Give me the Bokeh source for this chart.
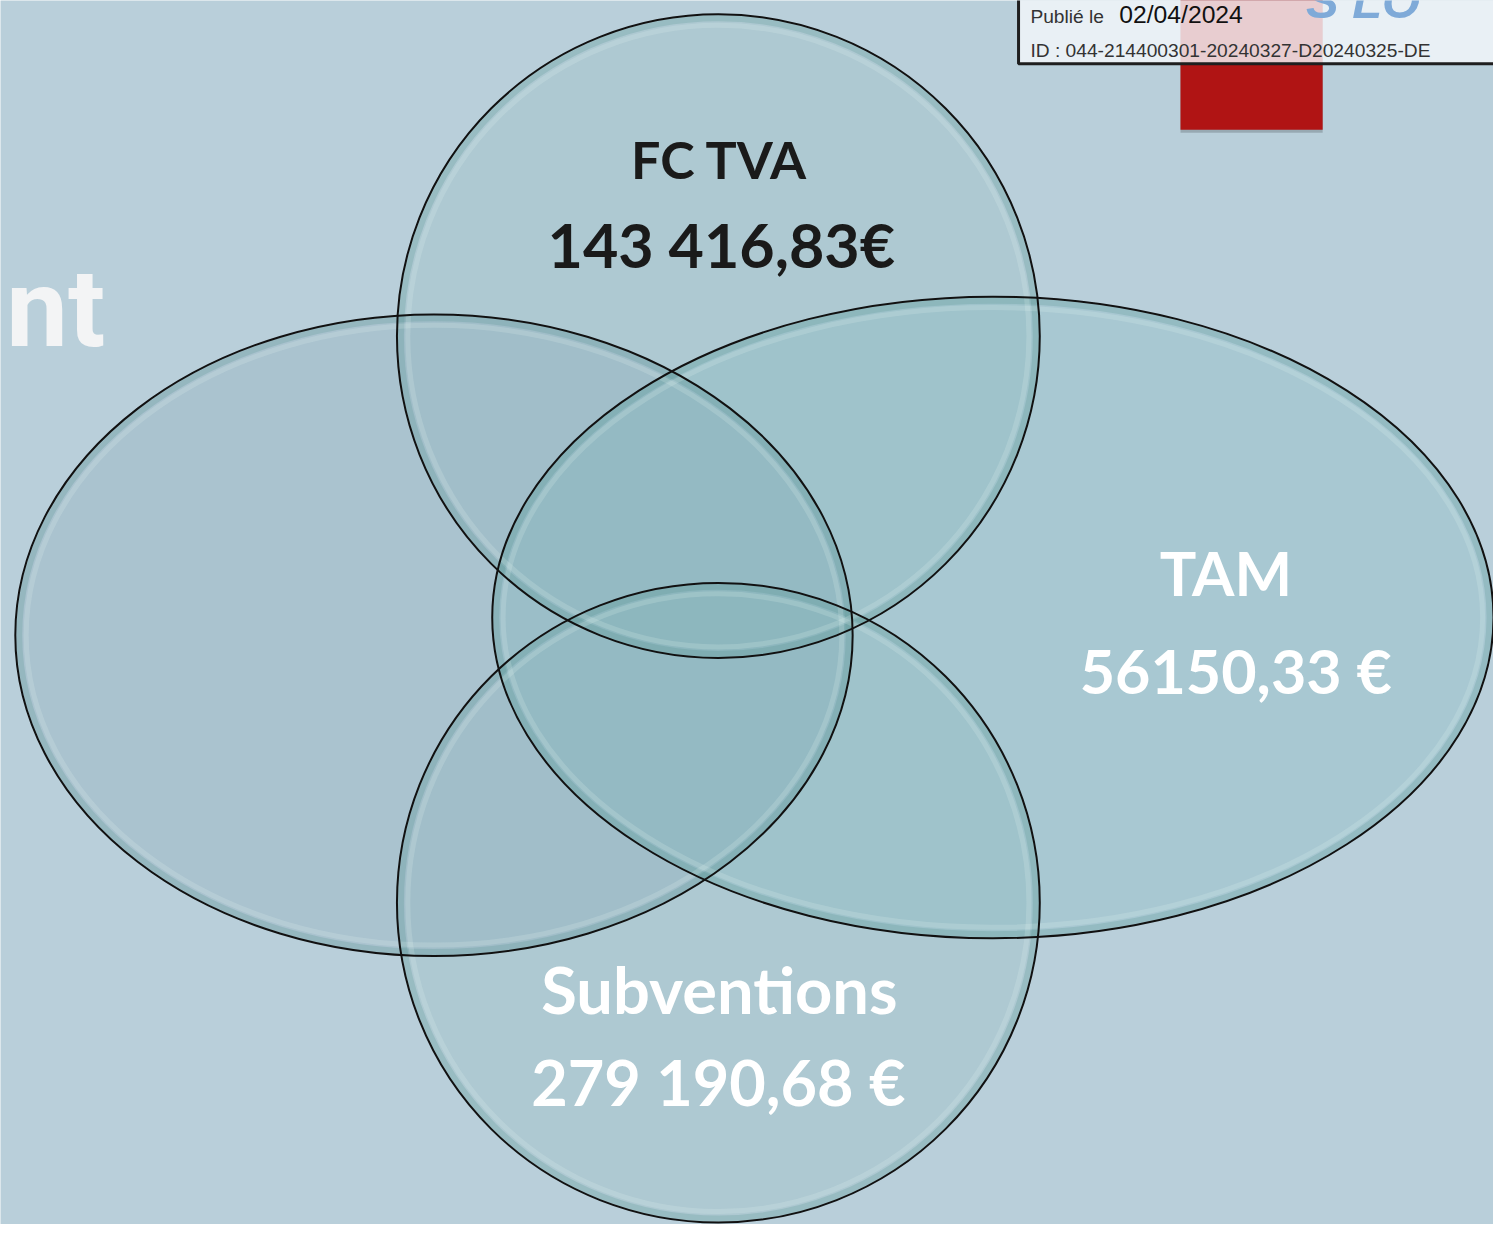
from bokeh.plotting import figure
from bokeh.models import Range1d, ColumnDataSource
from bokeh.core.properties import value
from bokeh.embed import file_html
from bokeh.resources import INLINE

# ---- data ----
categories = ["FC TVA", "TAM", "Subventions"]
amounts = ["143 416,83€", "56150,33 €", "279 190,68 €"]
ellipse_names = ["Gauche", "FC TVA", "TAM", "Subventions"]
title_fragment = "nt"
stamp_date = "02/04/2024"
stamp_id = "ID : 044-214400301-20240327-D20240325-DE"

# geometry of the diagram (reference pixel space)
ell_x = [439, 727, 1005, 727]
ell_y = [643, 340, 625, 914]
ell_w = [848, 651, 1014, 651]
ell_h = [650, 652, 650, 648]
ell_fill = ["#5A8296", "#64A0A5", "#50AAA5", "#64A0A5"]
ell_alpha = [0.15, 0.13, 0.16, 0.13]

W, H = 1512, 1240
PW, PH = 1493, 1224
s = PH / H
BOFF = 0.30  # compensation of the alphabetic baseline


def by(y, size):
    return y - BOFF * size


BG = "#B9CFDA"
p = figure(width=PW, height=PH, x_range=Range1d(0, W), y_range=Range1d(H, 0),
           output_backend="svg", toolbar_location=None, min_border=0)
p.axis.visible = False
p.grid.visible = False
p.outline_line_color = None
p.background_fill_color = BG
p.border_fill_color = BG

# title fragment at left
p.text(x=[106], y=[by(346, 112)], text=[title_fragment], text_align="right", text_baseline="alphabetic",
       text_font=value("Roboto"), text_font_style="bold",
       text_font_size=f"{int(112*s)}px", text_color="#F3F4F5")

# red tab + stamp box
p.quad(left=[1195], right=[1339], top=[-10], bottom=[134], fill_color="#000000", fill_alpha=0.18,
       line_color=None)
p.quad(left=[1195], right=[1339], top=[-10], bottom=[131], fill_color="#B01414", line_color=None)
p.quad(left=[1031], right=[1530], top=[-10], bottom=[64], fill_color="#F4F7FA", fill_alpha=0.82,
       line_color="#1E1E1E", line_width=3)
p.text(x=[1322], y=[by(16, 50)], text=["S LO"], text_font=value("Liberation Sans"),
       text_font_style="bold italic",
       text_font_size=f"{int(50*s)}px", text_color="#7FAAD8", text_baseline="alphabetic")
p.text(x=[1043], y=[by(22, 19.5)], text=["Publié le"], text_font=value("Liberation Sans"),
       text_font_size=f"{19.5*s:.1f}px", text_color="#333333", text_baseline="alphabetic")
p.text(x=[1133], y=[by(22, 25)], text=[stamp_date], text_font=value("Liberation Sans"),
       text_font_size=f"{25*s:.1f}px", text_color="#111111", text_baseline="alphabetic")
p.text(x=[1043], y=[by(57, 19.5)], text=[stamp_id], text_font=value("Liberation Sans"),
       text_font_size=f"{19.5*s:.1f}px", text_color="#333333", text_baseline="alphabetic")

src = ColumnDataSource(dict(x=ell_x, y=ell_y, w=ell_w, h=ell_h, c=ell_fill, a=ell_alpha,
                            wi=[w - 22 for w in ell_w], hi=[h - 22 for h in ell_h],
                            wo=[w - 8 for w in ell_w], ho=[h - 8 for h in ell_h]))
p.ellipse(x="x", y="y", width="w", height="h", source=src, fill_color="c", fill_alpha="a",
          line_color=None)
# glossy inner rims
p.ellipse(x="x", y="y", width="wo", height="ho", source=src, fill_color=None,
          line_color="#4E8F8A", line_alpha=0.22, line_width=6)
p.ellipse(x="x", y="y", width="wi", height="hi", source=src, fill_color=None,
          line_color="#EAF7F4", line_alpha=0.18, line_width=5)
p.ellipse(x="x", y="y", width="w", height="h", source=src, fill_color=None,
          line_color="#111111", line_width=2)

# labels
lab_x = [728, 1241, 728]
lab_y = [176, 598, 1021]
amt_x = [730, 1251, 727]
amt_y = [266, 697, 1114]
colors = ["#1A1A1A", "#FFFFFF", "#FFFFFF"]
sizes_lab = [53, 62, 66]
sizes_amt = [62, 62, 64]
for i in range(3):
    p.text(x=[lab_x[i]], y=[by(lab_y[i], sizes_lab[i])], text=[categories[i]], text_align="center",
           text_baseline="alphabetic", text_font=value("Lato"), text_font_style="bold",
           text_font_size=f"{int(sizes_lab[i]*s)}px", text_color=colors[i])
    p.text(x=[amt_x[i]], y=[by(amt_y[i], sizes_amt[i])], text=[amounts[i]], text_align="center",
           text_baseline="alphabetic", text_font=value("Lato"), text_font_style="bold",
           text_font_size=f"{int(sizes_amt[i]*s)}px", text_color=colors[i])

open("out.html", "w").write(file_html(p, INLINE))
